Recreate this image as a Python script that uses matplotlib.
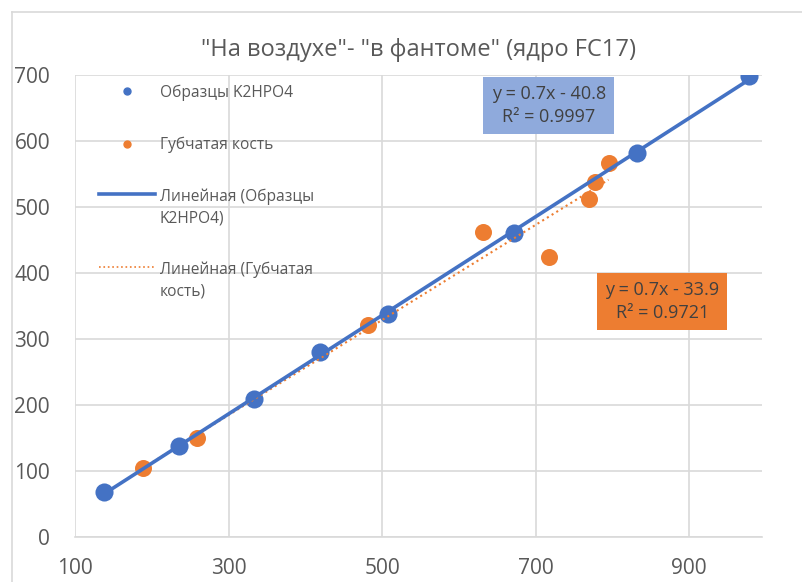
import numpy as np
import matplotlib
matplotlib.use("Agg")
import matplotlib.pyplot as plt
from matplotlib.lines import Line2D

plt.rcParams['font.family'] = ['Open Sans', 'DejaVu Sans']

# образцы K2HPO4
k2_x = [138, 235, 333, 419, 508, 672, 832, 978]
k2_y = [68, 138, 209, 280, 338, 460, 582, 698]
# губчатая кость
bone_x = [189, 259, 482, 632, 718, 770, 777, 795]
bone_y = [104, 150, 322, 462, 424, 512, 538, 567]

x_ticks = [100, 300, 500, 700, 900]
y_ticks = [0, 100, 200, 300, 400, 500, 600, 700]

title = '"На воздухе"- "в фантоме" (ядро FC17)'
k2_label = 'Образцы K2HPO4'
bone_label = 'Губчатая кость'
k2_fit_label = 'Линейная (Образцы\nK2HPO4)'
bone_fit_label = 'Линейная (Губчатая\nкость)'
k2_eq = 'y = 0.7x - 40.8\nR² = 0.9997'
bone_eq = 'y = 0.7x - 33.9\nR² = 0.9721'

blue = '#4472C4'
orange = '#ED7D31'
grid_c = '#D9D9D9'
text_c = '#595959'

fig = plt.figure(figsize=(8.03, 5.82), dpi=100)
ax = fig.add_axes([0.0934, 0.0773, 0.8556, 0.7937])

# frame of the chart area
fig.add_artist(Line2D([12 / 803, 1.0], [1 - 12 / 582, 1 - 12 / 582], color=grid_c, lw=1.2,
                      transform=fig.transFigure))
fig.add_artist(Line2D([12 / 803, 12 / 803], [0.0, 1 - 12 / 582], color=grid_c, lw=1.2,
                      transform=fig.transFigure))

ax.scatter(k2_x, k2_y, s=170, color=blue, zorder=3, linewidths=0)
ax.scatter(bone_x, bone_y, s=150, color=orange, zorder=3, linewidths=0)

# linear trendlines
k2_p = np.polyfit(k2_x, k2_y, 1)
bone_p = np.polyfit(bone_x, bone_y, 1)
xx = np.array([min(bone_x), max(bone_x)])
ax.plot(xx, np.polyval(bone_p, xx), ':', color=orange, lw=1.5, zorder=4)
xx = np.array([min(k2_x), max(k2_x)])
ax.plot(xx, np.polyval(k2_p, xx), '-', color=blue, lw=2.6, zorder=5)

ax.text(717, 654, k2_eq, ha='center', va='center', fontsize=13, color='#404040',
        linespacing=1.35, zorder=6,
        bbox=dict(boxstyle='square,pad=0.45', fc='#8FAADC', ec='none'))
ax.text(865, 357, bone_eq, ha='center', va='center', fontsize=13, color='#404040',
        linespacing=1.35, zorder=6,
        bbox=dict(boxstyle='square,pad=0.45', fc=orange, ec='none'))

ax.set_xlim(100, 995)
ax.set_ylim(0, 700)
ax.set_xticks(x_ticks)
ax.set_yticks(y_ticks)
ax.grid(True, color=grid_c, lw=1.2)
ax.set_axisbelow(True)
for s in ['top', 'right', 'left']:
    ax.spines[s].set_visible(False)
ax.spines['bottom'].set_color(grid_c)
ax.spines['bottom'].set_linewidth(1.2)
ax.tick_params(length=0, labelsize=15, colors=text_c, pad=15)
ax.tick_params(axis='y', pad=18)

ax.set_title(title, fontsize=17, color=text_c, pad=14)

handles = [
    Line2D([], [], ls='none', marker='o', ms=5, color=blue),
    Line2D([], [], ls='none', marker='o', ms=5, color=orange),
    Line2D([], [], color=blue, lw=2.6),
    Line2D([], [], color=orange, lw=1.2, ls=':'),
]
labels = [k2_label, bone_label, k2_fit_label, bone_fit_label]
leg = ax.legend(handles, labels,
                loc='upper left', bbox_to_anchor=(0.015, 1.01), frameon=False,
                fontsize=11.2, handlelength=3.6, handletextpad=0.3, labelspacing=2.3,
                labelcolor=text_c)
for t in leg.get_texts():
    t.set_linespacing(1.4)
# keep the line handles level with the first line of two-line labels
for col in leg._legend_handle_box.get_children():
    for item, lab in zip(col.get_children(), labels):
        if '\n' in lab:
            item.align = 'top'

fig.savefig('out.png', dpi=100)
